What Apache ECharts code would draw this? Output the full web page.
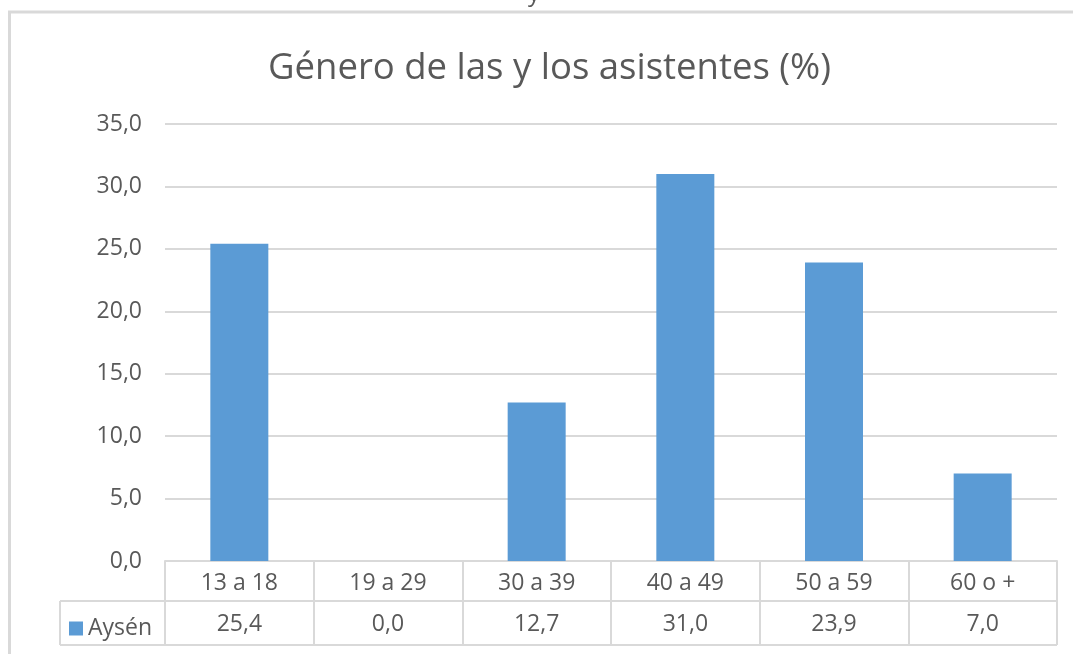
<!DOCTYPE html>
<html>
<head>
<meta charset="utf-8">
<title>Género de las y los asistentes (%)</title>
<script src="https://cdn.jsdelivr.net/npm/echarts@6/dist/echarts.min.js"></script>
<style>
  html, body { margin: 0; padding: 0; background: #fff; }
  #chart { width: 1073px; height: 654px; }
</style>
</head>
<body>
<div id="chart"></div>
<script>
// data
var categories = ['13 a 18', '19 a 29', '30 a 39', '40 a 49', '50 a 59', '60 o +'];
var seriesName = 'Aysén';
var values = [25.4, 0.0, 12.7, 31.0, 23.9, 7.0];
var yTicks = { min: 0, max: 35, step: 5 };

var fmt = function (v) { return Number(v).toFixed(1).replace('.', ','); };

var txt = '#595959';
var line = '#d9d9d9';
var font = '"Open Sans", "Noto Sans", sans-serif';

var dom = document.getElementById('chart');
var myChart = echarts.init(dom, null, { renderer: 'canvas' });

// plot area bounds (px)
var gLeft = 165, gRight = 1057, gTop = 124, gBottom = 561;

var option = {
    animation: false,
    backgroundColor: '#fff',
    title: {
        text: 'Género de las y los asistentes (%)',
        left: 263,
        top: 45,
        textStyle: { color: txt, fontFamily: font, fontSize: 36.5, fontWeight: 'normal' }
    },
    legend: {
        data: [seriesName],
        left: 64,
        top: 612,
        itemWidth: 14,
        itemHeight: 14,
        itemGap: 4,
        icon: 'rect',
        textStyle: { color: txt, fontFamily: font, fontSize: 23, padding: [0, 0, 0, 0] }
    },
    grid: { left: gLeft, right: 1073 - gRight, top: gTop, bottom: 654 - gBottom, containLabel: false },
    xAxis: [
        {
            type: 'category',
            data: categories,
            position: 'bottom',
            axisLine: { show: true, lineStyle: { color: line, width: 2 } },
            axisTick: { show: true, inside: false, length: 84, lineStyle: { color: line, width: 2 } },
            axisLabel: { color: txt, fontFamily: font, fontSize: 23, margin: 11 }
        },
        {
            type: 'category',
            data: values.map(fmt),
            position: 'bottom',
            offset: 40,
            axisLine: { show: false },
            axisTick: { show: false },
            axisLabel: { color: txt, fontFamily: font, fontSize: 23, margin: 12 }
        }
    ],
    yAxis: {
        type: 'value',
        min: yTicks.min,
        max: yTicks.max,
        interval: yTicks.step,
        axisLine: { show: false },
        axisTick: { show: false },
        axisLabel: { color: txt, fontFamily: font, fontSize: 23, margin: 23, formatter: fmt },
        splitLine: { lineStyle: { color: line, width: 2 } }
    },
    series: [
        {
            name: seriesName,
            type: 'bar',
            data: values,
            barWidth: 58,
            itemStyle: { color: '#5B9BD5' }
        }
    ],
    graphic: [
        // outer chart frame (right and bottom cut off in the reference)
        { type: 'rect', shape: { x: 9.5, y: 12, width: 1200, height: 800 }, style: { fill: null, stroke: line, lineWidth: 3 }, silent: true },
        // data table lines
        { type: 'line', shape: { x1: 60, y1: 601, x2: gRight, y2: 601 }, style: { stroke: line, lineWidth: 2 }, silent: true },
        { type: 'line', shape: { x1: 60, y1: 645, x2: gRight, y2: 645 }, style: { stroke: line, lineWidth: 2 }, silent: true },
        { type: 'line', shape: { x1: 60, y1: 601, x2: 60, y2: 645 }, style: { stroke: line, lineWidth: 2 }, silent: true },
        // descender of text sitting above the cropped frame
        { type: 'text', left: 528, top: -18, style: { text: 'y', fill: txt, font: '24px ' + font }, silent: true }
    ]
};

myChart.setOption(option);
window.addEventListener('resize', function () { myChart.resize(); });
</script>
</body>
</html>
